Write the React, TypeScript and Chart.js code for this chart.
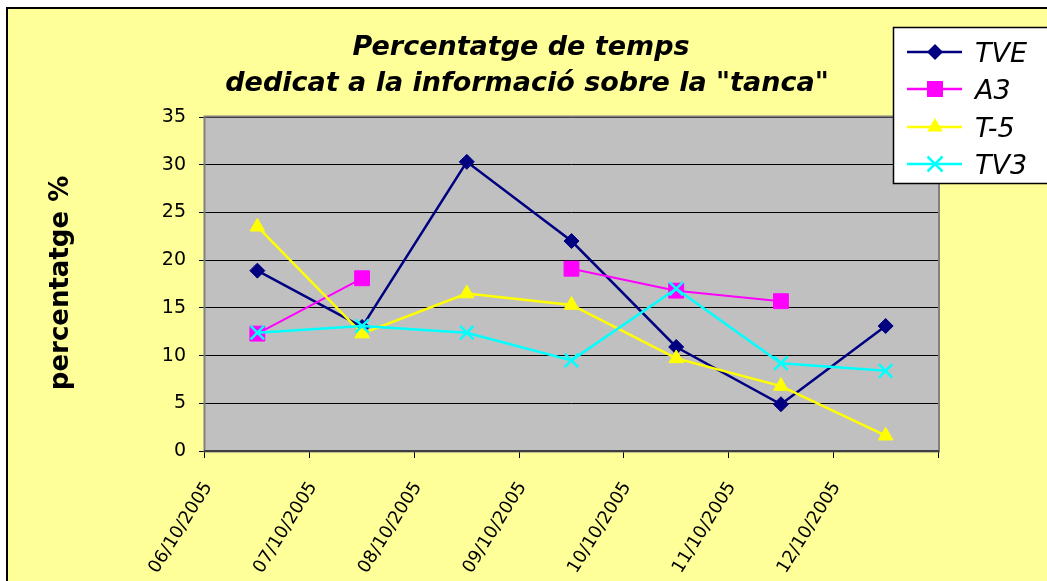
import React, { useEffect, useRef } from 'react';
import Chart from 'chart.js/auto';

const categories = ['06/10/2005', '07/10/2005', '08/10/2005', '09/10/2005', '10/10/2005', '11/10/2005', '12/10/2005'];
const seriesNames = ['TVE', 'A3', 'T-5', 'TV3'];
const tveValues = [18.9, 13.0, 30.3, 22.0, 10.9, 4.9, 13.1];
const a3Values: (number | null)[] = [12.3, 18.1, null, 19.1, 16.8, 15.7, null];
const t5Values = [23.5, 12.3, 16.5, 15.3, 9.7, 6.8, 1.6];
const tv3Values = [12.4, 13.1, 12.4, 9.5, 17.0, 9.2, 8.4];
const yMin = 0;
const yMax = 35;
const yStep = 5;
const titleLines = ['Percentatge de temps', 'dedicat a la informació sobre la "tanca"'];
const yAxisTitle = 'percentatge %';

const W = 1047;
const H = 581;
const FONT = '"DejaVu Sans", Verdana, sans-serif';

const colors = ['#000080', '#FF00FF', '#FFFF00', '#00FFFF'];
const styles = ['diamond', 'square', 'triangle', 'cross'];

function drawMarker(ctx: CanvasRenderingContext2D, kind: string, x: number, y: number, color: string) {
  ctx.save();
  ctx.fillStyle = color;
  ctx.strokeStyle = color;
  ctx.beginPath();
  if (kind === 'diamond') {
    const r = 8;
    ctx.moveTo(x - r, y); ctx.lineTo(x, y - r); ctx.lineTo(x + r, y); ctx.lineTo(x, y + r); ctx.closePath(); ctx.fill();
  } else if (kind === 'square') {
    ctx.fillRect(x - 8, y - 8, 16, 16);
  } else if (kind === 'triangle') {
    const r = 9;
    ctx.moveTo(x, y - r); ctx.lineTo(x + r * 0.866, y + r / 2); ctx.lineTo(x - r * 0.866, y + r / 2); ctx.closePath(); ctx.fill();
  } else {
    const d = 7.5;
    ctx.lineWidth = 2.5;
    ctx.moveTo(x - d, y - d); ctx.lineTo(x + d, y + d);
    ctx.moveTo(x - d, y + d); ctx.lineTo(x + d, y - d);
    ctx.stroke();
  }
  ctx.restore();
}

const decor = {
  id: 'decor',
  beforeDraw(chart: any) {
    const { ctx, chartArea: ca } = chart;
    ctx.save();
    ctx.fillStyle = '#FFFFFF';
    ctx.fillRect(0, 0, W, H);
    ctx.fillStyle = '#000000';
    ctx.fillRect(6, 7, W - 6, 2);
    ctx.fillRect(6, 7, 2, H - 7);
    ctx.fillStyle = '#FFFF99';
    ctx.fillRect(8, 9, W - 8, H - 9);
    ctx.fillStyle = '#C0C0C0';
    ctx.fillRect(ca.left, ca.top, ca.right - ca.left, ca.bottom - ca.top);
    ctx.restore();
  },
  beforeDatasetsDraw(chart: any) {
    const { ctx, chartArea: ca } = chart;
    ctx.save();
    ctx.strokeStyle = '#808080';
    ctx.lineWidth = 2;
    ctx.strokeRect(ca.left - 0.5, ca.top - 0.5, ca.right - ca.left + 1.5, ca.bottom - ca.top + 1);
    ctx.strokeStyle = '#404040';
    ctx.beginPath();
    ctx.moveTo(ca.left - 1, ca.bottom);
    ctx.lineTo(ca.right + 1, ca.bottom);
    ctx.stroke();
    ctx.restore();
  },
  afterDraw(chart: any) {
    const { ctx } = chart;
    ctx.save();
    // title
    ctx.fillStyle = '#000000';
    ctx.font = `bold italic 27px ${FONT}`;
    ctx.textAlign = 'center';
    ctx.textBaseline = 'alphabetic';
    ctx.fillText(titleLines[0], 521, 55);
    ctx.fillText(titleLines[1], 527, 91);
    // y axis title
    ctx.save();
    ctx.translate(68, 283);
    ctx.rotate(-Math.PI / 2);
    ctx.font = `bold 26px ${FONT}`;
    ctx.textAlign = 'center';
    ctx.fillText(yAxisTitle, 0, 0);
    ctx.restore();
    // legend
    ctx.fillStyle = '#FFFFFF';
    ctx.fillRect(893, 27, W - 893 + 5, 157);
    ctx.strokeStyle = '#000000';
    ctx.lineWidth = 1.5;
    ctx.strokeRect(893.5, 27.5, W - 893 + 10, 156);
    const rows = [52, 89, 127, 164];
    seriesNames.forEach((name, i) => {
      const y = rows[i];
      ctx.strokeStyle = colors[i];
      ctx.lineWidth = 2.5;
      ctx.beginPath();
      ctx.moveTo(907, y);
      ctx.lineTo(962, y);
      ctx.stroke();
      drawMarker(ctx, styles[i], 935, y, colors[i]);
      ctx.fillStyle = '#000000';
      ctx.font = `italic 27px ${FONT}`;
      ctx.textAlign = 'left';
      ctx.textBaseline = 'alphabetic';
      ctx.fillText(name, 975, y + 10);
    });
    ctx.restore();
  },
};

export default function App() {
  const ref = useRef<HTMLCanvasElement | null>(null);
  useEffect(() => {
    if (!ref.current) return;
    const chart = new Chart(ref.current, {
      type: 'line',
      data: {
        labels: categories,
        datasets: [
          {
            label: seriesNames[0], data: tveValues, borderColor: colors[0], backgroundColor: colors[0],
            borderWidth: 2.5, pointStyle: 'rectRot', pointRadius: 7.5, pointBorderWidth: 1,
            pointBackgroundColor: colors[0], pointBorderColor: colors[0], tension: 0, order: 3,
          },
          {
            label: seriesNames[1], data: a3Values, borderColor: colors[1], backgroundColor: colors[1],
            borderWidth: 2, pointStyle: 'rect', pointRadius: 10.5, pointBorderWidth: 1,
            pointBackgroundColor: colors[1], pointBorderColor: colors[1], tension: 0, spanGaps: false, order: 2,
          },
          {
            label: seriesNames[2], data: t5Values, borderColor: colors[2], backgroundColor: colors[2],
            borderWidth: 2.5, pointStyle: 'triangle', pointRadius: 8.5, pointBorderWidth: 1,
            pointBackgroundColor: colors[2], pointBorderColor: colors[2], tension: 0, order: 1,
          },
          {
            label: seriesNames[3], data: tv3Values, borderColor: colors[3], backgroundColor: colors[3],
            borderWidth: 2.5, pointStyle: 'crossRot', pointRadius: 9.5, pointBorderWidth: 2.5,
            pointBackgroundColor: colors[3], pointBorderColor: colors[3], tension: 0, order: 0,
          },
        ],
      } as any,
      options: {
        responsive: false,
        devicePixelRatio: 1,
        animation: false,
        events: [],
        layout: { padding: { top: 117, right: 109, bottom: 0, left: 0 } },
        plugins: { legend: { display: false }, title: { display: false }, tooltip: { enabled: false } },
        scales: {
          x: {
            type: 'category',
            offset: true,
            grid: { offset: true, drawOnChartArea: false, drawTicks: true, tickLength: 7, color: '#000000', lineWidth: 1 },
            border: { display: false },
            ticks: {
              autoSkip: false, minRotation: 58, maxRotation: 58, labelOffset: -49, padding: 20,
              color: '#000000', font: { family: FONT, size: 18 },
            },
            afterFit: (s: any) => { s.height = 130; },
          },
          y: {
            min: yMin, max: yMax,
            ticks: { stepSize: yStep, color: '#000000', padding: 13, font: { family: FONT, size: 19 } },
            grid: { color: '#000000', lineWidth: 1, drawTicks: true, tickLength: 6 },
            border: { display: false },
            afterFit: (s: any) => { s.width = 205; },
          },
        },
      } as any,
      plugins: [decor],
    });
    return () => chart.destroy();
  }, []);
  return (
    <div style={{ position: 'absolute', left: 0, top: 0, width: W, height: H, overflow: 'hidden' }}>
      <canvas ref={ref} width={W} height={H} style={{ display: 'block', width: W, height: H }} />
    </div>
  );
}
